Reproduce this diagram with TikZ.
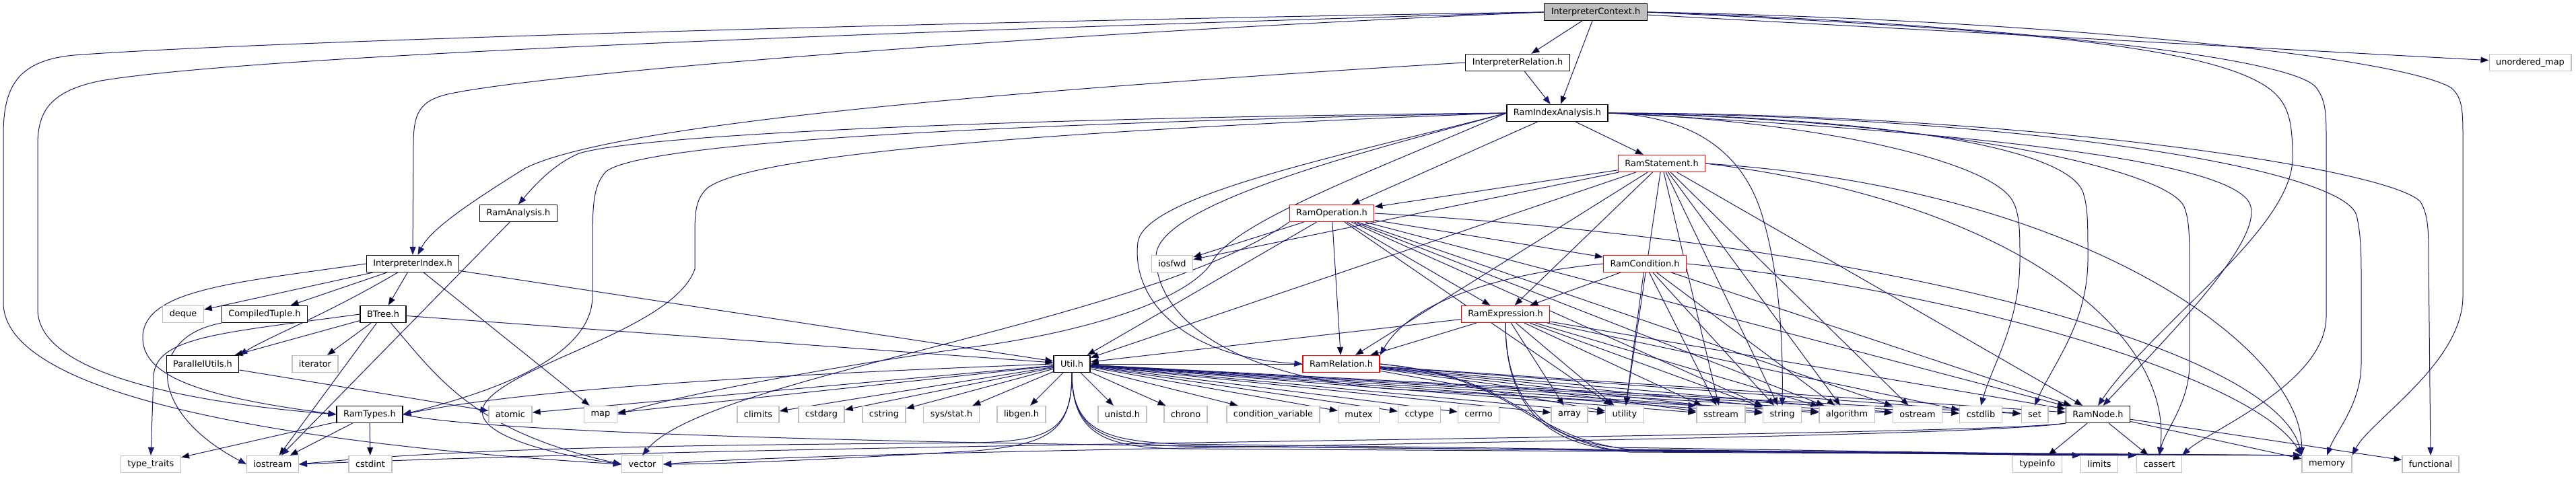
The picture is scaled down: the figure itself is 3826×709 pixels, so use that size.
\documentclass[tikz,border=0pt]{standalone}
\usepackage{fontspec}
\setmainfont{DejaVu Sans}
\usetikzlibrary{arrows.meta,backgrounds}

\definecolor{depblue}{RGB}{25,25,112}
\definecolor{sysgray}{RGB}{191,191,191}

\begin{document}
\begin{tikzpicture}[x=1pt, y=-1pt, >={Triangle[length=12pt,width=9pt]},
font=\fontsize{12.9pt}{15pt}\selectfont,
hdr/.style={draw=black, line width=1.3pt, fill=white, inner xsep=10pt, inner ysep=0pt, minimum height=25pt},
sys/.style={hdr, draw=sysgray},
trunc/.style={hdr, draw=red},
root/.style={hdr, fill=sysgray},
dep/.style={->, draw=depblue, line width=1pt}]
\useasboundingbox (0,0) rectangle (3826,709);

\node[root] (ictx) at (2370,18) {InterpreterContext.h};
\node[hdr] (irel) at (2254,93) {InterpreterRelation.h};
\node[sys] (umap) at (3758,93) {unordered\_map};
\node[hdr] (ria) at (2313,168) {RamIndexAnalysis.h};
\node[trunc] (rstmt) at (2468,243) {RamStatement.h};
\node[hdr] (rana) at (770,317) {RamAnalysis.h};
\node[trunc] (rop) at (1978,317) {RamOperation.h};
\node[hdr] (iidx) at (613,392) {InterpreterIndex.h};
\node[sys] (iosfwd) at (1741,392) {iosfwd};
\node[trunc] (rcond) at (2443,392) {RamCondition.h};
\node[sys] (deque) at (272,467) {deque};
\node[hdr] (ctup) at (393,467) {CompiledTuple.h};
\node[hdr] (btree) at (569,467) {BTree.h};
\node[trunc] (rexpr) at (2236,467) {RamExpression.h};
\node[hdr] (putil) at (301,541) {ParallelUtils.h};
\node[sys] (iter) at (468,541) {iterator};
\node[hdr] (util) at (1592,541) {Util.h};
\node[trunc] (rrel) at (1992,541) {RamRelation.h};

\node[hdr] (rtypes) at (549,616) {RamTypes.h};
\node[sys] (atomic) at (758,616) {atomic};
\node[sys] (map) at (892,616) {map};
\node[sys] (climits) at (1126,616) {climits};
\node[sys] (cstdarg) at (1220,616) {cstdarg};
\node[sys] (cstring) at (1313,616) {cstring};
\node[sys] (sysstat) at (1413,616) {sys/stat.h};
\node[sys] (libgen) at (1517,616) {libgen.h};
\node[sys] (unistd) at (1667,616) {unistd.h};
\node[sys] (chrono) at (1761,616) {chrono};
\node[sys] (condvar) at (1891,616) {condition\_variable};
\node[sys] (mutex) at (2018,616) {mutex};
\node[sys] (cctype) at (2108,616) {cctype};
\node[sys] (cerrno) at (2196,616) {cerrno};
\node[sys] (array) at (2331,616) {array};
\node[sys] (utility) at (2413,616) {utility};
\node[sys] (sstream) at (2556,616) {sstream};
\node[sys] (string) at (2647,616) {string};
\node[sys] (algo) at (2743,616) {algorithm};
\node[sys] (ostream) at (2848,616) {ostream};
\node[sys] (cstdlib) at (2942,616) {cstdlib};
\node[sys] (set) at (3022,616) {set};
\node[hdr] (rnode) at (3116,616) {RamNode.h};

\node[sys] (ttraits) at (224,690) {type\_traits};
\node[sys] (iostream) at (405,690) {iostream};
\node[sys] (cstdint) at (550,690) {cstdint};
\node[sys] (vector) at (954,690) {vector};
\node[sys] (typeinfo) at (3026,690) {typeinfo};
\node[sys] (limits) at (3118,690) {limits};
\node[sys] (cassert) at (3207,690) {cassert};
\node[sys] (memory) at (3456,690) {memory};
\node[sys] (functional) at (3610,690) {functional};

\begin{scope}[on background layer]
\draw[dep] (ictx) edge (irel) edge (ria) edge (umap);
\draw[dep] (ictx.west) .. controls (1500,30) and (400,60) .. (110,82) .. controls (25,90) and (5,130) .. (5,200) -- (5,450) .. controls (5,600) and (500,665) .. (vector.west);
\draw[dep] (ictx.west) .. controls (1500,42) and (400,78) .. (150,120) .. controls (75,135) and (56,165) .. (56,215) -- (56,460) .. controls (56,560) and (300,600) .. (rtypes.west);
\draw[dep] (ictx.west) .. controls (1500,52) and (800,110) .. (665,140) .. controls (622,150) and (614,170) .. (614,215) -- (iidx.north);
\draw[dep] (ictx.east) .. controls (2900,40) and (3300,60) .. (3380,140) .. controls (3400,160) and (3405,185) .. (3405,235) .. controls (3405,340) and (3200,480) .. (rnode.north);
\draw[dep] (ictx.east) .. controls (2900,32) and (3400,80) .. (3440,130) .. controls (3455,150) and (3455,170) .. (3455,210) -- (3455,470) .. controls (3455,570) and (3280,640) .. (cassert.north east);
\draw[dep] (ictx.east) .. controls (3000,28) and (3550,80) .. (3640,130) .. controls (3658,145) and (3658,165) .. (3658,210) -- (3658,440) .. controls (3658,540) and (3520,625) .. (memory.north east);

\draw[dep] (irel) -- (ria);
\draw[dep] (irel.west) .. controls (1400,140) and (900,190) .. (780,250) .. controls (700,300) and (640,340) .. (iidx.60);

\draw[dep] (ria) edge (rstmt) edge (rop);
\draw[dep] (ria.west) .. controls (1500,175) and (950,200) .. (860,228) .. controls (820,245) and (790,280) .. (rana.north);
\draw[dep] (ria.west) .. controls (1400,185) and (950,215) .. (900,255) .. controls (882,275) and (880,300) .. (880,360) -- (880,440) .. controls (880,540) and (700,590) .. (rtypes.east);
\draw[dep] (ria.west) .. controls (1400,200) and (1100,240) .. (1050,280) .. controls (1035,295) and (1032,310) .. (1032,345) -- (1032,400) .. controls (1000,490) and (760,540) .. (720,600) .. controls (690,650) and (850,680) .. (vector.west);
\draw[dep] (ria.west) .. controls (2050,250) and (1830,330) .. (1800,390) .. controls (1760,450) and (1600,495) .. (1450,515) .. controls (1200,550) and (1000,590) .. (map.east);
\draw[dep] (ria.west) .. controls (2000,230) and (1700,290) .. (1690,360) .. controls (1680,440) and (1750,530) .. (rrel.west);
\draw[dep] (ria.west) .. controls (2050,220) and (1720,300) .. (1717,380) .. controls (1715,480) and (1850,570) .. (2100,580) -- (sstream.north west);
\draw[dep] (ria.east) .. controls (2500,172) and (2590,215) .. (2620,330) .. controls (2645,420) and (2648,520) .. (string.north);
\draw[dep] (ria.east) .. controls (2700,180) and (2960,240) .. (2990,300) .. controls (3000,320) and (3000,345) .. (3000,385) .. controls (3000,480) and (2960,540) .. (cstdlib.north);
\draw[dep] (ria.east) .. controls (2800,175) and (3080,220) .. (3095,290) .. controls (3101,310) and (3101,335) .. (3101,385) .. controls (3101,480) and (3050,540) .. (set.north);
\draw[dep] (ria.east) .. controls (2900,178) and (3230,255) .. (3245,310) .. controls (3252,330) and (3252,355) .. (3252,400) -- (3252,540) .. controls (3252,600) and (3215,640) .. (cassert.north);
\draw[dep] (ria.east) .. controls (3000,172) and (3480,250) .. (3500,320) .. controls (3507,350) and (3507,380) .. (3507,420) -- (3507,540) .. controls (3507,600) and (3470,640) .. (memory.north);
\draw[dep] (ria.east) .. controls (3000,168) and (3550,250) .. (3595,300) .. controls (3607,320) and (3607,345) .. (3607,385) -- (functional.north);
\draw[dep] (ria.east) .. controls (2900,195) and (3300,235) .. (3340,300) .. controls (3370,350) and (3220,500) .. (rnode.60);

\draw[dep] (rstmt) edge (rop) edge (rexpr) edge (rrel) edge (util) edge (iosfwd) edge (utility) edge (sstream) edge (string) edge (algo) edge (ostream) edge (rnode);
\draw[dep] (rstmt.east) .. controls (3000,300) and (3230,500) .. (cassert.north);
\draw[dep] (rstmt.east) .. controls (3100,280) and (3420,520) .. (memory.north west);

\draw[dep] (rop) edge (iosfwd) edge (util) edge (rrel) edge (rcond) edge (rexpr) edge (rnode) edge (string) edge (utility) edge (algo) edge (ostream);
\draw[dep] (rop.south west) .. controls (1700,480) and (1050,560) .. (vector.north);
\draw[dep] (rop.east) .. controls (2800,360) and (3380,520) .. (memory.north west);

\draw[dep] (rcond) edge (rexpr) edge (sstream) edge (string) edge (algo) edge (utility) edge (rnode);
\draw[dep] (rcond.west) .. controls (2250,405) and (2100,440) .. (rrel.north east);
\draw[dep] (rcond.east) .. controls (2900,430) and (3350,560) .. (memory.north west);

\draw[dep] (rexpr) edge (rrel) edge (util) edge (array) edge (utility) edge (sstream) edge (string) edge (algo) edge (cstdlib) edge (rnode);
\draw[dep] (rexpr.south) .. controls (2236,560) and (2262,650) .. (2400,665) -- (cassert.north west);
\draw[dep] (rexpr.south) .. controls (2236,565) and (2262,655) .. (2400,669) -- (memory.north west);

\draw[dep] (rrel) edge (util) edge (rnode) edge (sstream) edge (string) edge (utility) edge (algo) edge (ostream) edge (set);
\draw[dep] (rrel.east) .. controls (2260,560) and (2265,650) .. (2420,668) -- (cassert.north west);
\draw[dep] (rrel.east) .. controls (2260,562) and (2268,655) .. (2420,672) -- (memory.north west);

\draw[dep] (util) edge (atomic) edge (map) edge (climits) edge (cstdarg) edge (cstring) edge (sysstat) edge (libgen) edge (unistd) edge (chrono) edge (condvar) edge (mutex) edge (cctype) edge (cerrno) edge (array) edge (utility) edge (sstream) edge (string) edge (algo) edge (ostream) edge (cstdlib) edge (set);
\draw[dep] (util.west) .. controls (1200,555) and (800,575) .. (rtypes.east);
\draw[dep] (util.south) .. controls (1592,640) and (1560,655) .. (1450,658) .. controls (1000,662) and (700,665) .. (iostream.east);
\draw[dep] (util.south) .. controls (1592,640) and (1560,660) .. (1450,670) .. controls (1200,685) and (1050,690) .. (vector.east);
\draw[dep] (util.south) .. controls (1592,640) and (1640,655) .. (1750,660) -- (limits.north west);
\draw[dep] (util.south) .. controls (1592,642) and (1640,660) .. (1750,663) -- (cassert.north west);
\draw[dep] (util.south) .. controls (1592,645) and (1640,665) .. (1750,667) -- (memory.north west);

\draw[dep] (rnode) edge (typeinfo) edge (cassert) edge (memory) edge (functional);
\draw[dep] (rnode.south west) .. controls (2900,650) and (1300,655) .. (iostream.east);
\draw[dep] (rnode.south west) .. controls (2900,655) and (1300,665) .. (vector.east);

\draw[dep] (rtypes) edge (ttraits) edge (iostream) edge (cstdint);
\draw[dep] (rtypes.east) .. controls (700,640) and (1200,655) .. (1700,662) -- (limits.north west);

\draw[dep] (iidx) edge (deque) edge (ctup) edge (btree) edge (map) edge (util);
\draw[dep] (iidx) .. controls (480,470) and (400,500) .. (putil.north east);
\draw[dep] (iidx.west) .. controls (350,420) and (215,430) .. (212,500) .. controls (210,560) and (300,590) .. (rtypes.west);

\draw[dep] (btree) edge (putil) edge (iter) edge (iostream) edge (util);
\draw[dep] (btree) .. controls (650,560) and (700,640) .. (vector.west);
\draw[dep] (btree.west) .. controls (330,495) and (230,500) .. (228,560) -- (ttraits.north);

\draw[dep] (putil) -- (atomic);
\draw[dep] (ctup.south west) .. controls (220,500) and (215,610) .. (iostream.west);
\draw[dep] (rana) -- (iostream);
\end{scope}
\end{tikzpicture}
\end{document}
